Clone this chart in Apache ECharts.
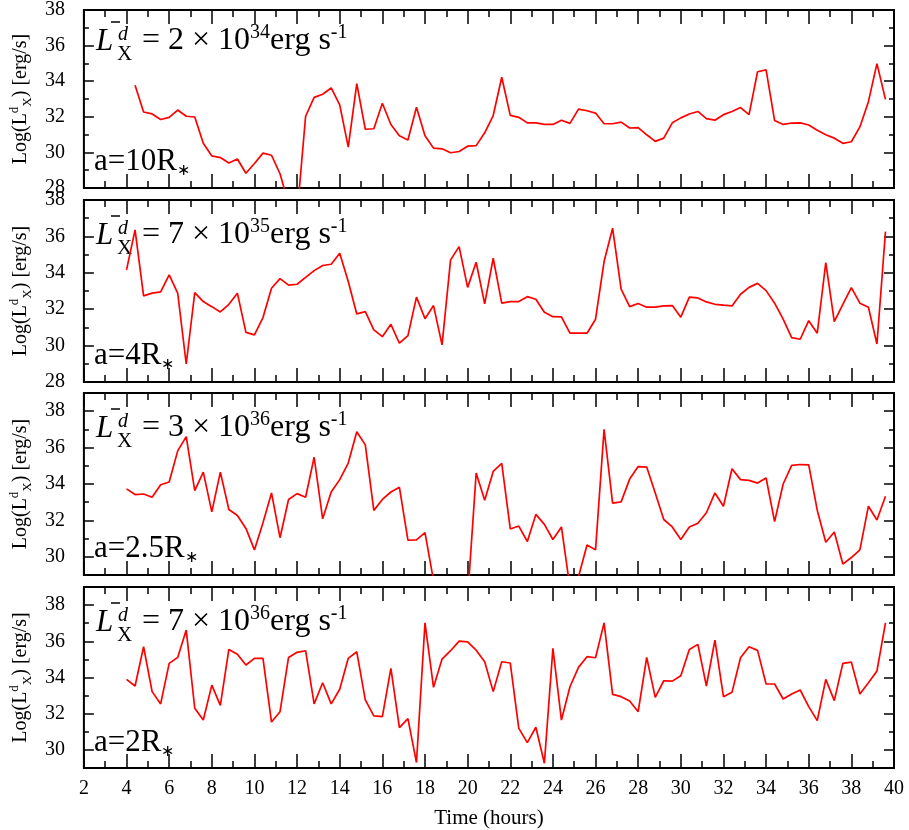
<!DOCTYPE html>
<html lang="en">
<head>
    <meta charset="utf-8">
    <title>X-ray luminosity light curves</title>
    <script src="https://cdn.jsdelivr.net/npm/echarts@6/dist/echarts.min.js"></script>
</head>
<body style="margin:0">
    <div id="main" style="width: 909px; height: 830px;"></div>
<script type="text/javascript">
    // time axis: one sample every 0.4 h
    const times = Array.from({ length: 90 }, (_, i) => Math.round((4 + 0.4 * i) * 10) / 10);

    // log Lx for a = 10 R* (first sample missing)
    const lx10 = [null, 33.77, 32.27, 32.16, 31.85, 31.97, 32.38, 32.03, 31.99, 30.51,
        29.80, 29.71, 29.40, 29.63, 28.83, 29.38, 29.96, 29.84, 28.80, 27.10,
        26.50, 32.03, 33.09, 33.27, 33.62, 32.67, 30.30, 33.86, 31.30, 31.33,
        32.76, 31.57, 30.93, 30.70, 32.54, 30.93, 30.24, 30.20, 29.98, 30.05,
        30.35, 30.38, 31.10, 32.07, 34.22, 32.08, 31.97, 31.66, 31.66, 31.57,
        31.57, 31.81, 31.63, 32.43, 32.34, 32.21, 31.61, 31.61, 31.70, 31.37,
        31.39, 30.99, 30.62, 30.80, 31.66, 31.94, 32.16, 32.30, 31.90, 31.81,
        32.12, 32.30, 32.52, 32.12, 34.53, 34.64, 31.79, 31.57, 31.65, 31.66,
        31.54, 31.24, 30.99, 30.80, 30.51, 30.60, 31.43, 32.85, 34.99, 32.98];

    // log Lx for a = 4 R*
    const lx4 = [34.16, 36.36, 32.73, 32.88, 32.95, 33.88, 32.88, 28.99, 32.91, 32.42,
        32.14, 31.85, 32.27, 32.88, 30.73, 30.59, 31.54, 33.15, 33.68, 33.32,
        33.37, 33.75, 34.12, 34.40, 34.47, 35.07, 33.52, 31.74, 31.87, 30.86,
        30.49, 31.17, 30.13, 30.55, 32.66, 31.48, 32.20, 30.04, 34.71, 35.44,
        33.20, 34.58, 32.29, 34.80, 32.33, 32.42, 32.42, 32.69, 32.55, 31.83,
        31.59, 31.58, 30.68, 30.68, 30.68, 31.45, 34.62, 36.45, 33.10, 32.14,
        32.31, 32.11, 32.11, 32.18, 32.20, 31.56, 32.66, 32.62, 32.40, 32.27,
        32.22, 32.18, 32.82, 33.20, 33.42, 33.02, 32.33, 31.45, 30.44, 30.35,
        31.37, 30.68, 34.56, 31.32, 32.27, 33.19, 32.33, 32.11, 30.09, 36.26];

    // log Lx for a = 2.5 R*
    const lx25 = [33.73, 33.42, 33.45, 33.27, 33.96, 34.11, 35.82, 36.60, 33.64, 34.65,
        32.47, 34.65, 32.60, 32.27, 31.56, 30.38, 31.87, 33.51, 31.05, 33.15,
        33.47, 33.27, 35.47, 32.09, 33.56, 34.24, 35.15, 36.87, 36.15, 32.55,
        33.15, 33.56, 33.82, 30.91, 30.93, 31.33, 28.70, 27.50, 26.50, 27.00,
        27.70, 34.60, 33.11, 34.69, 35.13, 31.53, 31.69, 30.84, 32.33, 31.78,
        30.95, 31.64, 28.30, 28.90, 30.65, 30.38, 37.00, 32.95, 33.02, 34.27,
        34.96, 34.93, 33.51, 32.05, 31.64, 30.95, 31.64, 31.84, 32.42, 33.51,
        32.78, 34.84, 34.24, 34.20, 34.05, 34.33, 31.93, 34.00, 35.02, 35.07,
        35.05, 32.56, 30.80, 31.36, 29.60, 29.96, 30.38, 32.78, 32.02, 33.33];

    // log Lx for a = 2 R*
    const lx2 = [33.90, 33.53, 35.70, 33.22, 32.54, 34.78, 35.11, 36.62, 32.30, 31.65,
        33.58, 32.46, 35.55, 35.29, 34.69, 35.06, 35.06, 31.54, 32.11, 35.11,
        35.39, 35.48, 32.54, 33.71, 32.54, 33.35, 35.06, 35.42, 32.76, 31.88,
        31.84, 34.50, 31.23, 31.73, 29.30, 37.02, 33.46, 35.02, 35.48, 36.01,
        35.97, 35.51, 34.87, 33.22, 34.87, 34.80, 31.19, 30.40, 31.25, 29.26,
        35.61, 31.65, 33.49, 34.56, 35.15, 35.09, 37.02, 33.07, 32.94, 32.70,
        32.11, 35.11, 32.90, 33.82, 33.80, 34.10, 35.55, 35.83, 33.53, 36.07,
        32.94, 33.18, 35.09, 35.70, 35.50, 33.64, 33.64, 32.81, 33.09, 33.31,
        32.39, 31.62, 33.90, 32.72, 34.78, 34.85, 33.09, 33.71, 34.36, 37.02];

    const panelData = [lx10, lx4, lx25, lx2];
    const lumMant = ['2', '7', '3', '7'];
    const lumExp = ['34', '35', '36', '36'];
    const sepLabel = ['10', '4', '2.5', '2'];
    const yMins = [28, 28, 29, 29];
    const yMaxs = [38, 38, 39, 39];

    const FONT = 'Liberation Serif';
    const gridTops = [6, 200, 393, 587];
    const gridH = 182;

    let grids = [], xAxes = [], yAxes = [], series = [], graphics = [];

    for (let i = 0; i < 4; i++) {
        const T = gridTops[i];
        grids.push({
            left: 78, right: 15, top: T, height: gridH,
            show: true, borderColor: '#000', borderWidth: 2, backgroundColor: 'transparent'
        });

        ['bottom', 'top'].forEach(function (pos) {
            const lastBottom = (i === 3 && pos === 'bottom');
            xAxes.push({
                gridIndex: i, type: 'value', position: pos,
                min: 2, max: 40, interval: 2,
                axisLine: { show: false },
                axisTick: { show: true, inside: true, length: 14, lineStyle: { color: '#000', width: 1.5 } },
                minorTick: { show: true, splitNumber: 2, length: 7, lineStyle: { color: '#000', width: 1.5 } },
                splitLine: { show: false },
                axisLabel: {
                    show: lastBottom, margin: 11, color: '#000',
                    fontFamily: FONT, fontSize: 20
                },
                name: lastBottom ? 'Time (hours)' : '',
                nameLocation: 'middle', nameGap: 40,
                nameTextStyle: { fontFamily: FONT, fontSize: 21, color: '#000' }
            });
        });

        const evens = [], odds = [];
        for (let v = yMins[i]; v <= yMaxs[i]; v++) {
            (v % 2 === 0 ? evens : odds).push(v);
        }
        ['left', 'right'].forEach(function (pos) {
            [evens, odds].forEach(function (vals, k) {
                const main = (pos === 'left' && k === 0);
                yAxes.push({
                    gridIndex: i, type: 'value', position: pos,
                    min: yMins[i], max: yMaxs[i],
                    axisLine: { show: false },
                    axisTick: {
                        show: true, inside: true, length: k === 0 ? 10 : 5,
                        customValues: vals, lineStyle: { color: '#000', width: 1.5 }
                    },
                    splitLine: { show: false },
                    axisLabel: {
                        show: main, customValues: evens, margin: 19, color: '#000',
                        fontFamily: FONT, fontSize: 20
                    },
                    name: main ? 'Log(L{sp|d}{sb|X}) [erg/s]' : '',
                    nameLocation: 'middle', nameRotate: 90, nameGap: 49,
                    nameTextStyle: {
                        fontFamily: FONT, fontSize: 20, color: '#000', lineHeight: 26,
                        rich: {
                            sp: { fontFamily: FONT, fontSize: 13, lineHeight: 26, verticalAlign: 'top', color: '#000' },
                            sb: { fontFamily: FONT, fontSize: 13, lineHeight: 26, verticalAlign: 'bottom', color: '#000' }
                        }
                    }
                });
            });
        });

        series.push({
            type: 'line',
            xAxisIndex: 2 * i, yAxisIndex: 4 * i,
            data: times.map((t, k) => [t, panelData[i][k]]),
            showSymbol: false, clip: true, connectNulls: false,
            lineStyle: { color: '#ff0000', width: 1.7 },
            itemStyle: { color: '#ff0000' }
        });

        // panel annotations
        const B = T + 46;
        graphics.push(
            { type: 'text', x: 96, y: B - 10.5, style: { text: 'L', fontFamily: FONT, fontStyle: 'italic', fontSize: 31, fill: '#000', verticalAlign: 'middle' } },
            { type: 'line', shape: { x1: 111, y1: B - 30, x2: 120, y2: B - 30 }, style: { stroke: '#000', lineWidth: 1.5 } },
            { type: 'text', x: 118, y: B - 17, style: { text: 'd', fontFamily: FONT, fontStyle: 'italic', fontSize: 20, fill: '#000', verticalAlign: 'middle' } },
            { type: 'text', x: 117, y: B + 2, style: { text: 'X', fontFamily: FONT, fontSize: 21, fill: '#000', verticalAlign: 'middle' } },
            {
                type: 'text', x: 142, y: B - 11,
                style: {
                    text: '= ' + lumMant[i] + ' \u00d7 10{sp|' + lumExp[i] + '}erg s{sp|-1}',
                    fontFamily: FONT, fontSize: 32, lineHeight: 36, fill: '#000', verticalAlign: 'middle',
                    rich: { sp: { fontFamily: FONT, fontSize: 20, lineHeight: 36, verticalAlign: 'top', fill: '#000' } }
                }
            },
            {
                type: 'text', x: 94, y: T + 156,
                style: {
                    text: 'a=' + sepLabel[i] + 'R{s|\u2217}',
                    fontFamily: FONT, fontSize: 31, lineHeight: 34, fill: '#000', verticalAlign: 'middle',
                    rich: { s: { fontFamily: FONT, fontSize: 16, lineHeight: 34, verticalAlign: 'bottom', fill: '#000' } }
                }
            }
        );
    }

    const chart = echarts.init(document.getElementById('main'));
    chart.setOption({
        animation: false,
        backgroundColor: '#fff',
        grid: grids,
        xAxis: xAxes,
        yAxis: yAxes,
        series: series,
        graphic: graphics
    });
</script>
</body>
</html>
